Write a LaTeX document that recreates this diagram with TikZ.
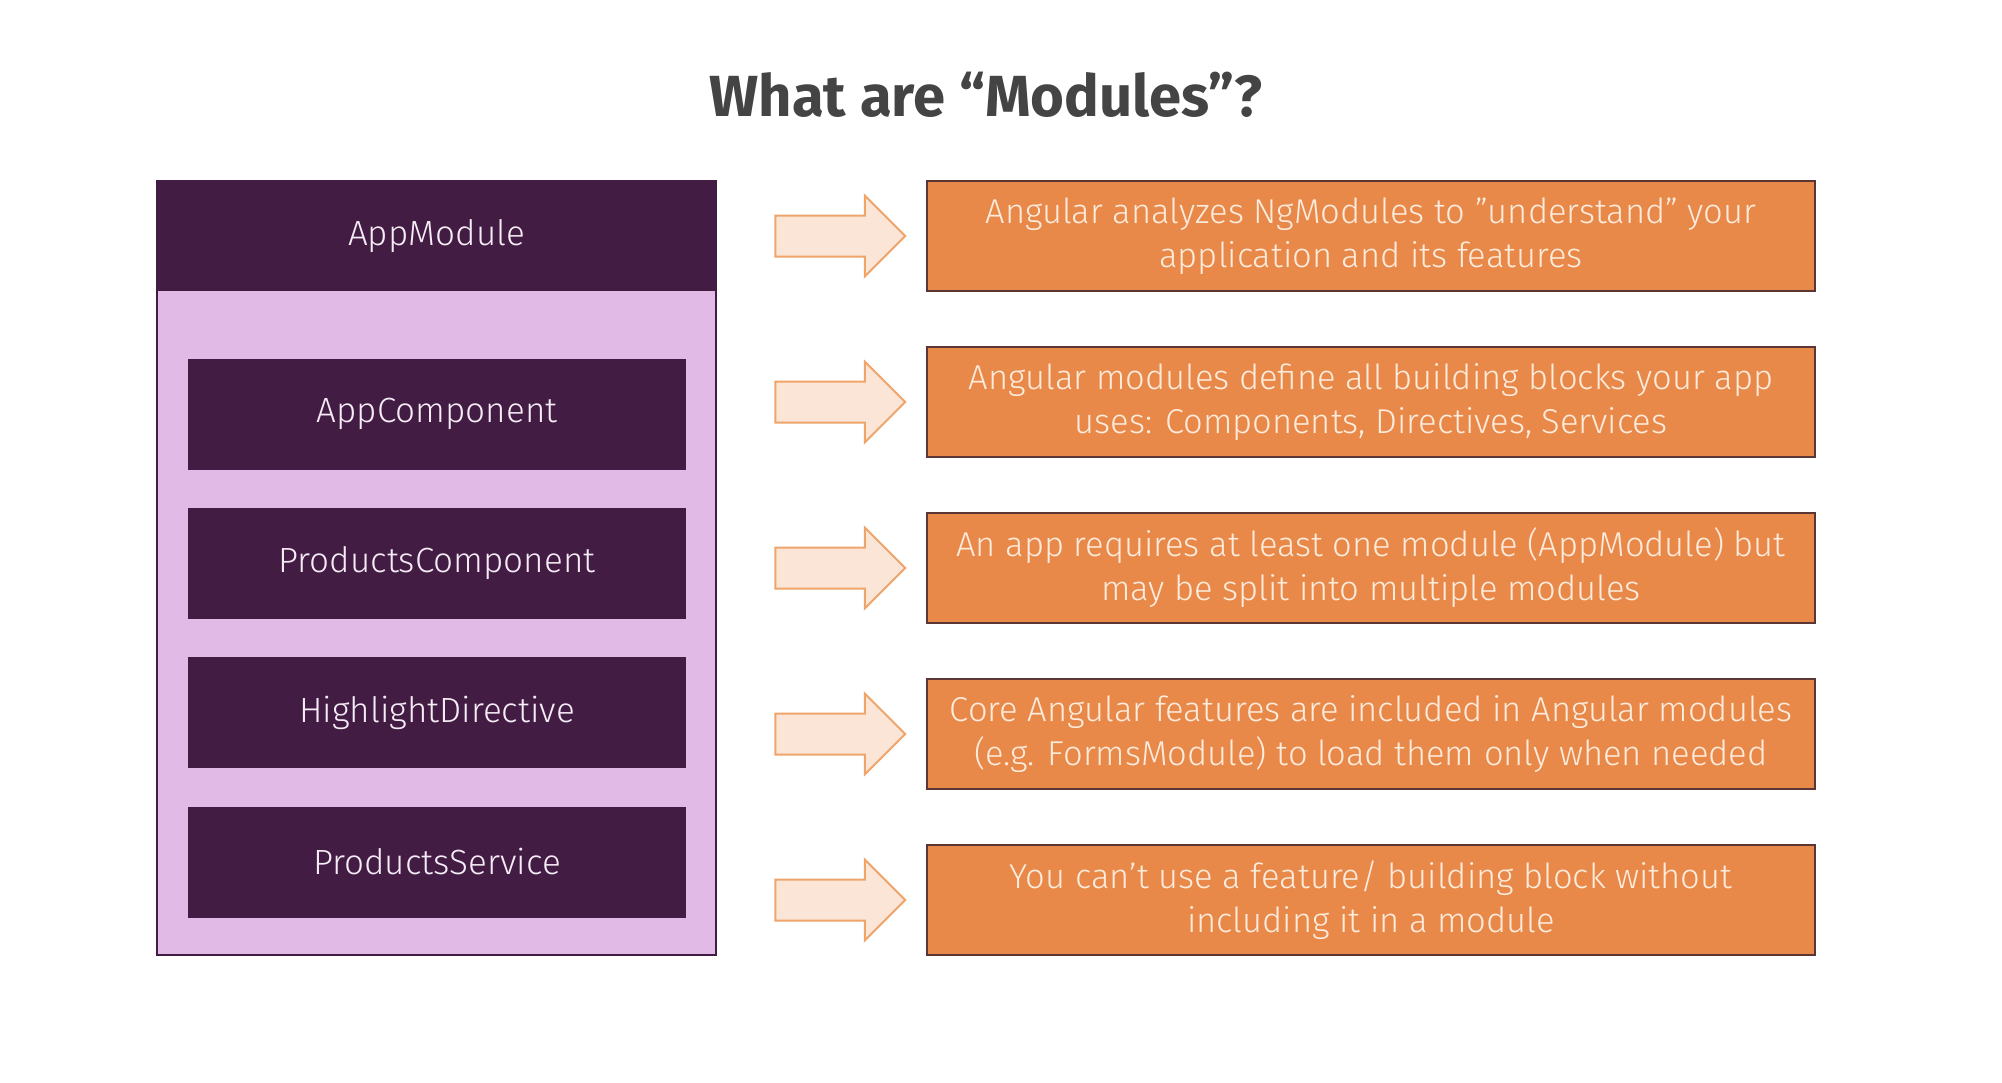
\documentclass[tikz,border=0pt]{standalone}
\usepackage{fontspec}
\setmainfont{Fira Sans Light}
\newfontfamily\titlefont{Fira Sans Bold}
\usetikzlibrary{shapes.arrows}
\definecolor{dpurple}{HTML}{431C44}
\definecolor{lpurple}{HTML}{E1BAE6}
\definecolor{oboxfill}{HTML}{E8894A}
\definecolor{oboxline}{HTML}{5C3636}
\definecolor{arrfill}{HTML}{FBE5D6}
\definecolor{arrline}{HTML}{EFA56A}
\definecolor{otext}{HTML}{FDEBDC}
\definecolor{ptext}{HTML}{F6ECF6}
\definecolor{ttext}{HTML}{444444}
\tikzset{
  pbox/.style={rectangle, fill=dpurple, minimum width=498pt, minimum height=111pt,
    inner sep=0pt, text=ptext, font=\fontsize{35}{42}\selectfont},
  obox/.style={rectangle, fill=oboxfill, draw=oboxline, line width=2.2pt,
    minimum width=888pt, minimum height=110pt, inner sep=0pt, align=center,
    text=otext, font=\fontsize{34.5}{44}\selectfont},
  barrow/.style={single arrow, fill=arrfill, draw=arrline, line width=2pt,
    minimum height=130pt, inner sep=19.5pt, single arrow head extend=20pt,
    single arrow tip angle=90, anchor=center}
}
\begin{document}
\begin{tikzpicture}[x=1pt,y=-1pt]
\useasboundingbox[fill=white] (0,0) rectangle (2002,1082);
\node[text=ttext, font=\titlefont\fontsize{58}{60}\selectfont] (title) at (986,95) {What are “Modules”?};
% outer module box
\node[rectangle, fill=lpurple, draw=dpurple, line width=2pt, minimum width=559pt, minimum height=774pt, inner sep=0pt] (outer) at (436.5,568) {};
\node[rectangle, fill=dpurple, minimum width=559pt, minimum height=110pt, inner sep=0pt, text=ptext, font=\fontsize{35}{42}\selectfont] (appmodule) at (436.5,236) {AppModule};
\node[pbox] (appcomp) at (437,414) {AppComponent};
\node[pbox] (prodcomp) at (437,563) {ProductsComponent};
\node[pbox] (highlight) at (437,712.5) {HighlightDirective};
\node[pbox] (prodserv) at (437,862) {ProductsService};
% arrows
\node[barrow] (a1) at (830,236) {};
\node[barrow] (a2) at (830,402) {};
\node[barrow] (a3) at (830,568) {};
\node[barrow] (a4) at (830,734) {};
\node[barrow] (a5) at (830,900) {};
% explanation boxes
\node[obox] (o1) at (1371,236) {Angular analyzes NgModules to ”understand” your\\application and its features};
\node[obox] (o2) at (1371,402) {Angular modules define all building blocks your app\\uses: Components, Directives, Services};
\node[obox] (o3) at (1371,568) {An app requires at least one module (AppModule) but\\may be split into multiple modules};
\node[obox] (o4) at (1371,734) {Core Angular features are included in Angular modules\\(e.g. FormsModule) to load them only when needed};
\node[obox] (o5) at (1371,900) {You can’t use a feature/ building block without\\including it in a module};
\end{tikzpicture}
\end{document}
